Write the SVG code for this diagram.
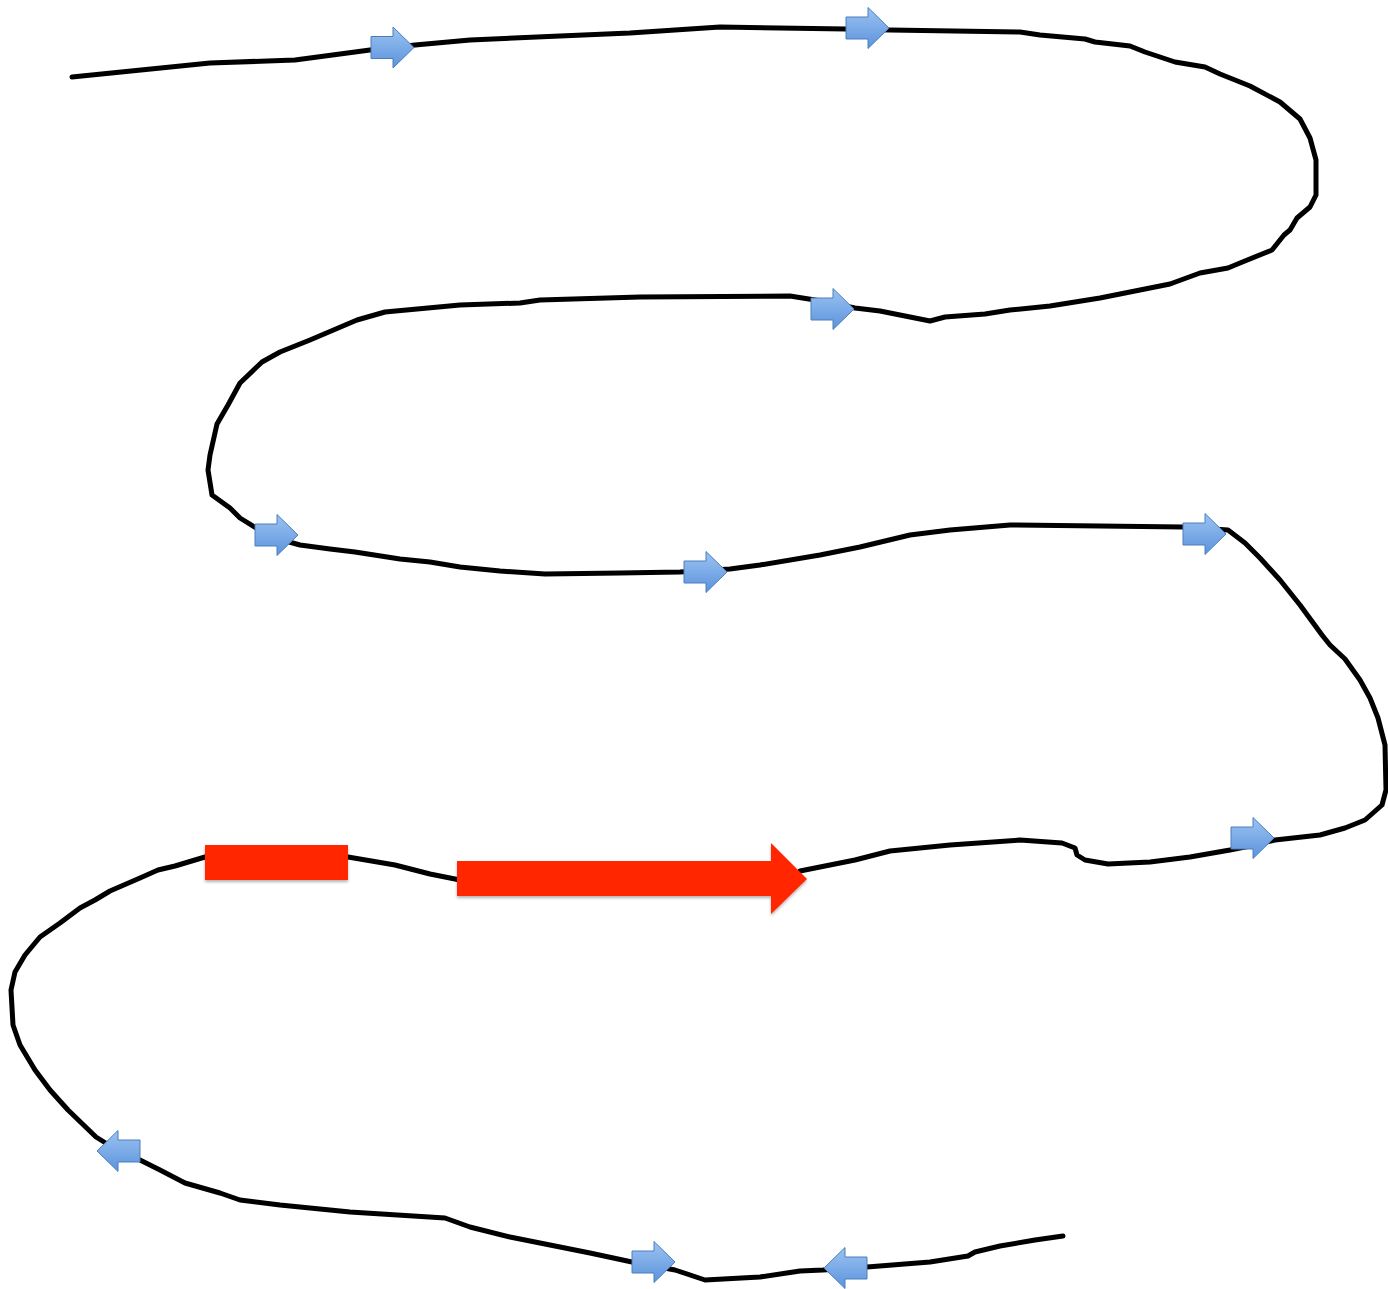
<svg xmlns="http://www.w3.org/2000/svg" width="1388" height="1289" viewBox="0 0 1388 1289">
<style>
.line{fill:none;stroke:#000;stroke-width:5;stroke-linejoin:round;stroke-linecap:round}
.blue{fill:url(#bg);stroke:#4a7ebb;stroke-width:1}
.red{fill:#ff2600;filter:url(#sh)}
</style>
<defs>
<linearGradient id="bg" x1="0" y1="0" x2="0" y2="1">
<stop offset="0" stop-color="#9cc3f2"/>
<stop offset="1" stop-color="#5b93dc"/>
</linearGradient>
<filter id="sh" x="-10%" y="-30%" width="120%" height="170%">
<feDropShadow dx="0" dy="2" stdDeviation="1.5" flood-color="#000" flood-opacity="0.3"/>
</filter>
<path id="ar" d="M0,-11 H22 V-20.5 L43,0 L22,20.5 V11 H0 Z"/>
</defs>
<g id="connectors">
<polyline class="line" points="72,77 210,63 295,60 370,50 415,45 470,40 560,36 630,33 720,27 846,29 890,30 1020,32 1040,35 1085,39 1095,42 1130,46 1145,52 1175,62 1205,67 1220,74 1250,86 1280,102 1300,119 1310,138 1316,160 1316,195 1310,207 1297,218 1290,230 1284,235 1272,250 1240,263 1228,268 1200,273 1170,284 1100,298 1050,306 1010,310 985,314 945,317 930,321 880,311 855,308 815,300 790,296 640,297 540,300 520,303 460,305 385,312 357,320 310,340 280,352 262,362 240,383 228,405 217,424 210,455 208,470 212,495 230,508 240,518 256,528 275,538 300,545 330,549 355,552 400,559 430,562 460,567 500,571 545,574 620,573 680,572 730,569 760,565 820,555 860,547 910,535 950,530 1010,525 1183,527 1228,530 1245,543 1260,558 1280,580 1300,605 1322,635 1330,645 1345,659 1360,680 1370,698 1378,718 1385,745 1386,790 1382,805 1365,820 1345,828 1320,835 1275,840 1250,846 1230,850 1190,857 1150,862 1108,864 1085,860 1077,855 1075,848 1062,843 1020,840 950,845 890,851 855,860 800,871"/>
<polyline class="line" points="460,880 445,877 430,874 395,865 348,857"/>
<polyline class="line" points="205,857 175,866 158,870 140,878 110,891 95,900 80,908 60,923 40,937 25,955 15,972 11,990 13,1025 20,1045 35,1070 50,1090 68,1110 96,1137 120,1152 140,1160 160,1170 185,1183 220,1193 240,1200 280,1205 350,1212 445,1218 470,1227 510,1237 590,1253 632,1262 675,1270 705,1280 760,1277 800,1271 823,1270 867,1267 930,1262 968,1256 975,1252 1000,1246 1035,1240 1063,1236"/>
</g>
<g id="blue-arrows">
<use href="#ar" class="blue" transform="translate(371,47.5)"/>
<use href="#ar" class="blue" transform="translate(846,28)"/>
<use href="#ar" class="blue" transform="translate(811,309)"/>
<use href="#ar" class="blue" transform="translate(255,535)"/>
<use href="#ar" class="blue" transform="translate(684,572)"/>
<use href="#ar" class="blue" transform="translate(1183,534)"/>
<use href="#ar" class="blue" transform="translate(1231,838)"/>
<use href="#ar" class="blue" transform="translate(140,1151) scale(-1,1)"/>
<use href="#ar" class="blue" transform="translate(632,1262)"/>
<use href="#ar" class="blue" transform="translate(867,1268) scale(-1,1)"/>
</g>
<g id="red-box">
<rect class="red" x="205" y="845" width="143" height="35"/>
</g>
<g id="red-arrow">
<path class="red" d="M457,861 H771 V843 L807,879 L771,914 V896 H457 Z"/>
</g>
</svg>
